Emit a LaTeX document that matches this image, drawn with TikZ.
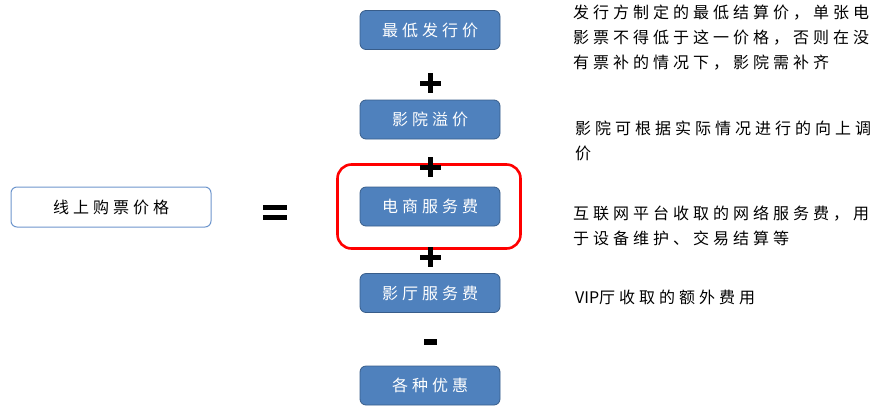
\documentclass[tikz,border=0pt]{standalone}
\usepackage{fontspec}
\newfontfamily\cjk[LetterSpace=25]{Noto Sans CJK SC}
\newfontfamily\cjkplain{Noto Sans CJK SC}
\definecolor{boxblue}{RGB}{79,129,189}
\definecolor{boxedge}{RGB}{56,93,138}
\definecolor{lightedge}{RGB}{110,150,205}
\begin{document}
\begin{tikzpicture}[x=1pt,y=-1pt,
  bluebox/.style={draw=boxedge, line width=0.8pt, fill=boxblue, rounded corners=6pt,
    minimum width=140pt, minimum height=39pt, inner sep=0pt, text=white,
    font=\cjk\fontsize{16}{20}\selectfont},
  leftbox/.style={draw=lightedge, line width=1pt, fill=white, rounded corners=6pt,
    minimum width=200pt, minimum height=40pt, inner sep=0pt, text=black,
    font=\cjk\fontsize{16}{20}\selectfont},
  note/.style={anchor=west, inner sep=0pt, align=left, text=black,
    font=\cjk\fontsize{16}{25}\selectfont},
  opbar/.style={fill=black, draw=none}]
\useasboundingbox (0,0) rectangle (896,405);
% left box
\node[leftbox] (total) at (111,207) {线上购票价格};
% equals
\fill[opbar] (263,205) rectangle (287,210);
\fill[opbar] (263,214.5) rectangle (287,219.5);
% blue boxes
\node[bluebox] (b1) at (430,30) {最低发行价};
\node[bluebox] (b2) at (430,119.5) {影院溢价};
\node[bluebox] (b3) at (430,206.5) {电商服务费};
\node[bluebox] (b4) at (430,293) {影厅服务费};
\node[bluebox] (b5) at (430,385.5) {各种优惠};
% red highlight
\node[draw=red, line width=2.6pt, rounded corners=14pt, minimum width=183pt,
  minimum height=84pt, inner sep=0pt] (hl) at (429,206.5) {};
% plus signs
\foreach \yy in {83,167,257}{
  \fill[opbar] (419.5,\yy-2.5) rectangle (440.5,\yy+2.5);
  \fill[opbar] (427.5,\yy-10) rectangle (432.5,\yy+10);
}
% minus
\fill[opbar] (423.5,339) rectangle (436.5,345);
% notes
\node[note] (n1) at (573,38) {发行方制定的最低结算价，单张电\\影票不得低于这一价格，否则在没\\有票补的情况下，影院需补齐};
\node[note] (n2) at (575,141) {影院可根据实际情况进行的向上调\\价};
\node[note] (n3) at (573,225.5) {互联网平台收取的网络服务费，用\\于设备维护、交易结算等};
\node[note] (n4) at (575,297) {{\cjkplain VIP}厅收取的额外费用};
\end{tikzpicture}
\end{document}
